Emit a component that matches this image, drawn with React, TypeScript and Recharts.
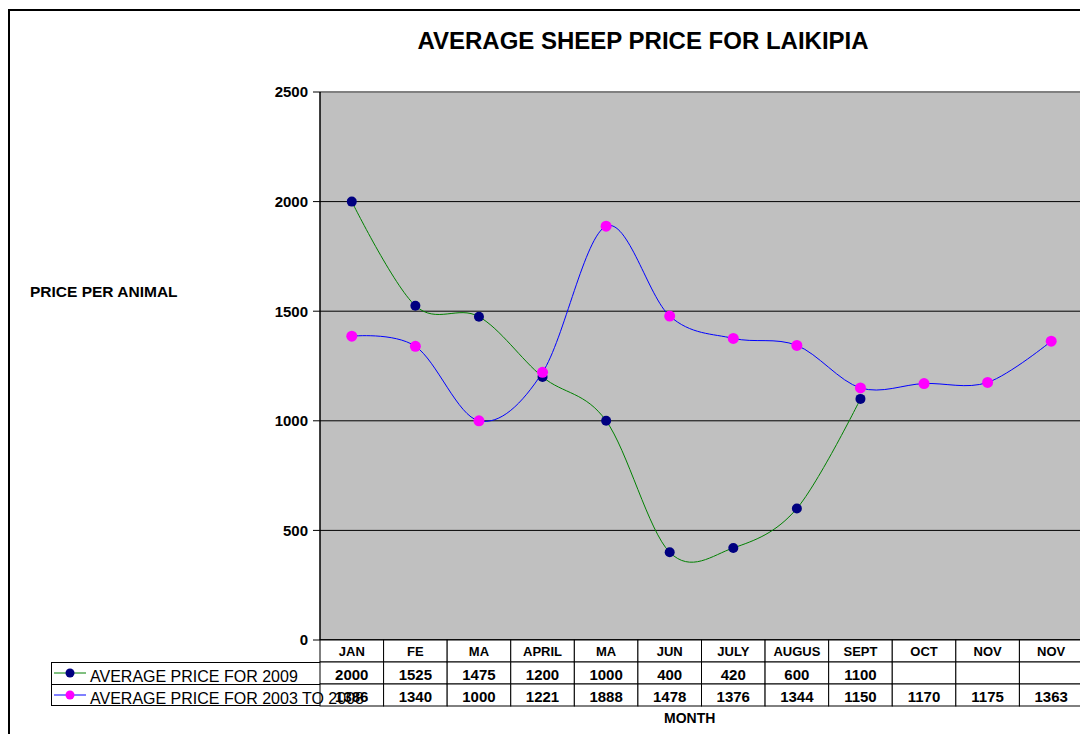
import React from 'react';
import {
  CartesianGrid,
  Line,
  LineChart,
  XAxis,
  YAxis,
} from 'recharts';

const months = ['JAN', 'FE', 'MA', 'APRIL', 'MA', 'JUN', 'JULY', 'AUGUS', 'SEPT', 'OCT', 'NOV', 'NOV'];
const price2009: (number | null)[] = [2000, 1525, 1475, 1200, 1000, 400, 420, 600, 1100, null, null, null];
const price2003to2008 = [1386, 1340, 1000, 1221, 1888, 1478, 1376, 1344, 1150, 1170, 1175, 1363];
const yTicks = [0, 500, 1000, 1500, 2000, 2500];

const series2009Label = 'AVERAGE PRICE FOR 2009';
const seriesPastLabel = 'AVERAGE PRICE FOR 2003 TO 2008';

const chartData = months.map((month, i) => ({
  month,
  p2009: price2009[i],
  pPast: price2003to2008[i],
}));

const FONT = "Arial, 'Liberation Sans', sans-serif";
const PLOT_LEFT = 320;
const PLOT_RIGHT = 1083;
const PLOT_TOP = 92;
const PLOT_BOTTOM = 640;
const COL_W = (PLOT_RIGHT - PLOT_LEFT) / months.length;
const ROW_H = 22;

// Excel-like smoothing (uniform Catmull-Rom, same as cardinal with tension 0)
function smoothCurve(context: any) {
  const k = 1 / 6;
  const s: any = { _context: context };
  const bez = (x: number, y: number) => {
    s._context.bezierCurveTo(
      s._x1 + k * (s._x2 - s._x0),
      s._y1 + k * (s._y2 - s._y0),
      s._x2 + k * (s._x1 - x),
      s._y2 + k * (s._y1 - y),
      s._x2,
      s._y2
    );
  };
  s.areaStart = () => { s._line = 0; };
  s.areaEnd = () => { s._line = NaN; };
  s.lineStart = () => {
    s._x0 = s._x1 = s._x2 = s._y0 = s._y1 = s._y2 = NaN;
    s._point = 0;
  };
  s.lineEnd = () => {
    switch (s._point) {
      case 2: s._context.lineTo(s._x2, s._y2); break;
      case 3: bez(s._x1, s._y1); break;
    }
    if (s._line || (s._line !== 0 && s._point === 1)) s._context.closePath();
    s._line = 1 - s._line;
  };
  s.point = (px: number, py: number) => {
    const x = +px;
    const y = +py;
    switch (s._point) {
      case 0:
        s._point = 1;
        if (s._line) s._context.lineTo(x, y);
        else s._context.moveTo(x, y);
        break;
      case 1:
        s._point = 2;
        s._x1 = x;
        s._y1 = y;
        break;
      case 2:
        s._point = 3;
        bez(x, y);
        break;
      default:
        bez(x, y);
        break;
    }
    s._x0 = s._x1; s._x1 = s._x2; s._x2 = x;
    s._y0 = s._y1; s._y1 = s._y2; s._y2 = y;
  };
  return s;
}

function TableColumn(props: any) {
  const { x, y, payload } = props;
  const i = props.index ?? payload.index;
  const left = x - COL_W / 2;
  const v1 = price2009[i];
  const v2 = price2003to2008[i];
  return (
    <g>
      <rect x={left} y={y} width={COL_W} height={ROW_H} fill="#fff" stroke="#000" />
      <rect x={left} y={y + ROW_H} width={COL_W} height={ROW_H} fill="#fff" stroke="#000" />
      <rect x={left} y={y + ROW_H * 2} width={COL_W} height={ROW_H} fill="#fff" stroke="#000" />
      <text x={x} y={y + 11} textAnchor="middle" dominantBaseline="central"
        fontFamily={FONT} fontSize={13} fontWeight="bold" fill="#000">
        {months[i]}
      </text>
      <text x={x} y={y + ROW_H + 12} textAnchor="middle" dominantBaseline="central"
        fontFamily={FONT} fontSize={15} fontWeight="bold" fill="#000">
        {v1 == null ? '' : v1}
      </text>
      <text x={x} y={y + ROW_H * 2 + 12} textAnchor="middle" dominantBaseline="central"
        fontFamily={FONT} fontSize={15} fontWeight="bold" fill="#000">
        {v2}
      </text>
    </g>
  );
}

function LegendKey({ top, line, dot, label }: { top: number; line: string; dot: string; label: string }) {
  return (
    <div style={{ position: 'absolute', left: 51, top, height: ROW_H, width: 269 }}>
      <svg width={40} height={ROW_H} style={{ position: 'absolute', left: 0, top: 0 }}>
        <line x1={3} x2={35} y1={11} y2={11} stroke={line} strokeWidth={1} />
        <circle cx={19} cy={11} r={4.5} fill={dot} />
      </svg>
      <span style={{
        position: 'absolute', left: 39, top: 5, whiteSpace: 'nowrap',
        fontFamily: FONT, fontSize: 16, color: '#000', lineHeight: '20px',
      }}>
        {label}
      </span>
    </div>
  );
}

export default function App() {
  return (
    <div style={{ position: 'relative', margin: -8, width: 1088, height: 742, overflow: 'hidden', background: '#fff' }}>
      <div style={{
        position: 'absolute', left: 8, top: 9, width: 1200, height: 900,
        borderLeft: '2px solid #000', borderTop: '2px solid #000',
      }} />

      <div style={{
        position: 'absolute', left: 0, top: 27, width: 1286, textAlign: 'center',
        fontFamily: FONT, fontWeight: 'bold', fontSize: 24, color: '#000',
      }}>
        AVERAGE SHEEP PRICE FOR LAIKIPIA
      </div>

      <div style={{
        position: 'absolute', left: 30, top: 283, whiteSpace: 'nowrap',
        fontFamily: FONT, fontWeight: 'bold', fontSize: 15.5, color: '#000',
      }}>
        PRICE PER ANIMAL
      </div>

      <div style={{ position: 'absolute', left: 0, top: 0 }}>
        <LineChart
          width={1088}
          height={742}
          data={chartData}
          margin={{ top: PLOT_TOP, right: 1088 - PLOT_RIGHT, bottom: 742 - PLOT_BOTTOM - ROW_H * 3, left: 0 }}
        >
          <CartesianGrid horizontal vertical={false} stroke="#000" fill="#C0C0C0" fillOpacity={1} />
          <XAxis
            dataKey="month"
            height={ROW_H * 3}
            interval={0}
            tickLine={false}
            tickSize={0}
            tickMargin={0}
            padding={{ left: COL_W / 2, right: COL_W / 2 }}
            axisLine={{ stroke: '#000', strokeWidth: 1.5 }}
            tick={<TableColumn />}
          />
          <YAxis
            width={PLOT_LEFT}
            domain={[0, 2500]}
            ticks={yTicks}
            tickSize={7}
            tickMargin={5}
            axisLine={{ stroke: '#000', strokeWidth: 1.5 }}
            tickLine={{ stroke: '#000' }}
            tick={{ fontFamily: FONT, fontSize: 15, fontWeight: 'bold', fill: '#000' }}
          />
          <Line
            dataKey="p2009"
            name={series2009Label}
            type={smoothCurve as any}
            stroke="#008000"
            strokeWidth={1}
            dot={{ r: 5, fill: '#000080', stroke: '#000080', strokeWidth: 0 }}
            activeDot={false}
            isAnimationActive={false}
          />
          <Line
            dataKey="pPast"
            name={seriesPastLabel}
            type={smoothCurve as any}
            stroke="#0000FF"
            strokeWidth={1}
            dot={{ r: 5.5, fill: '#FF00FF', stroke: '#FF00FF', strokeWidth: 0 }}
            activeDot={false}
            isAnimationActive={false}
          />
        </LineChart>
      </div>

      {/* grey plot-area frame, top and right edges */}
      <div style={{
        position: 'absolute', left: PLOT_LEFT + 1, top: PLOT_TOP - 1, width: PLOT_RIGHT - PLOT_LEFT - 1,
        height: PLOT_BOTTOM - PLOT_TOP, borderTop: '2px solid #808080', borderRight: '2px solid #808080',
        boxSizing: 'border-box', pointerEvents: 'none',
      }} />

      <div style={{
        position: 'absolute', left: 51, top: 662, width: 269, height: ROW_H * 2,
        border: '1px solid #000', borderRight: 'none', boxSizing: 'border-box',
      }} />
      <div style={{ position: 'absolute', left: 51, top: 684, width: 269, height: 1, background: '#000' }} />
      <LegendKey top={662} line="#008000" dot="#000080" label={series2009Label} />
      <LegendKey top={684} line="#0000FF" dot="#FF00FF" label={seriesPastLabel} />

      <div style={{
        position: 'absolute', left: 664, top: 710, whiteSpace: 'nowrap',
        fontFamily: FONT, fontWeight: 'bold', fontSize: 14, color: '#000',
      }}>
        MONTH
      </div>
    </div>
  );
}
